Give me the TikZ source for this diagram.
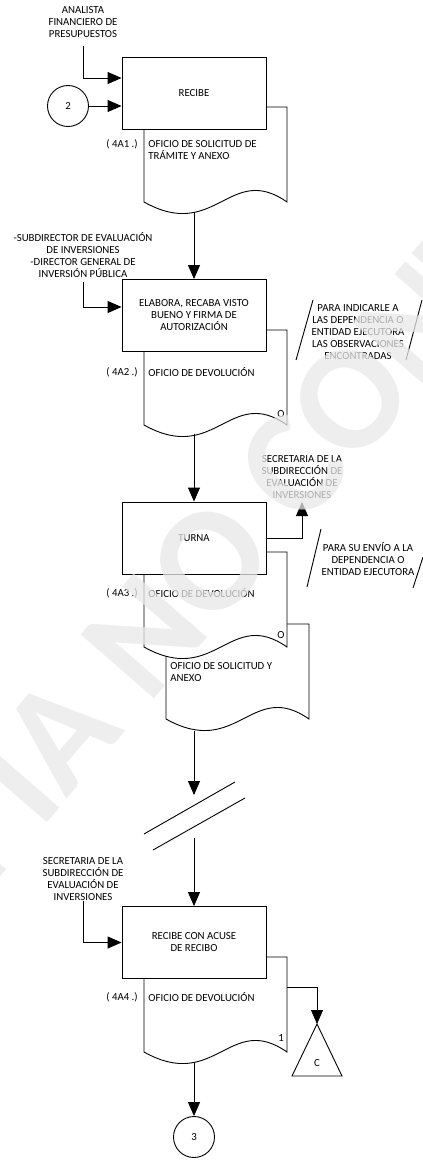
\documentclass[tikz,border=0pt]{standalone}
\usepackage{fontspec}
\setmainfont{Carlito}
\usetikzlibrary{arrows.meta}

% hoja de documento con borde inferior ondulado
\newcommand{\documento}[2]{%
  \draw[hoja] (#1,#2) -- ({#1+143},#2) -- ({#1+143},{#2+95})
    .. controls ({#1+85.8},{#2+55}) and ({#1+71.5},{#2+135}) .. (#1,{#2+95}) -- cycle;}

\begin{document}
\begin{tikzpicture}[x=1pt, y=-1pt, line width=0.9pt,
        every node/.style={font=\fontsize{10.8}{12}\selectfont},
        caja/.style={draw, fill=white, align=center, minimum width=144pt,
        minimum height=72pt, inner sep=0pt},
        texto/.style={align=center, inner sep=0pt},
        circulo/.style={draw, fill=white, circle, minimum size=41pt, inner sep=0pt},
        hoja/.style={draw, fill=white},
        flecha/.style={-{Triangle[length=14pt, width=12pt]}}
    ]
        \useasboundingbox (0,0) rectangle (423,1160);
        \clip (0,0) rectangle (423,1160);
        % documentos
        \documento{144}{107}
        \documento{144}{330}
        \documento{166}{624}
        \documento{144}{552}
        \documento{144}{957}
        % actividades
        \node[caja] (recibe) at (194,93) {RECIBE};
        \node[caja] (elabora) at (194,315.5) {ELABORA, RECABA VISTO\\BUENO Y FIRMA DE\\AUTORIZACIÓN};
        \node[caja] (turna) at (194,538) {TURNA};
        \node[caja] (acuse) at (194,942.5) {RECIBE CON ACUSE\\DE RECIBO};
        \node[circulo] (c2) at (68,106) {2};
        \node[circulo] (c3) at (194,1137) {3};
        % responsables
        \node[texto] (analista) at (83,22) {ANALISTA\\FINANCIERO DE\\PRESUPUESTOS};
        \node[texto] (subdirector) at (83,255) {-SUBDIRECTOR DE EVALUACIÓN\\DE INVERSIONES\\-DIRECTOR GENERAL DE\\INVERSIÓN PÚBLICA};
        \node[texto] (secretaria1) at (302,477) {SECRETARIA DE LA\\SUBDIRECCIÓN DE\\EVALUACIÓN DE\\INVERSIONES};
        \node[texto] (secretaria2) at (83,879) {SECRETARIA DE LA\\SUBDIRECCIÓN DE\\EVALUACIÓN DE\\INVERSIONES};
        % claves y textos de los documentos
        \node[texto] (clave1) at (122,144) {( 4A1 .)};
        \node[texto, anchor=west, align=left] (oficio1) at (148,150) {OFICIO DE SOLICITUD DE\\TRÁMITE Y ANEXO};
        \node[texto] (clave2) at (122,372) {( 4A2 .)};
        \node[texto, anchor=west] (oficio2) at (148,372) {OFICIO DE DEVOLUCIÓN};
        \node[texto] (o2) at (281,414) {O};
        \node[texto] (clave3) at (122,593) {( 4A3 .)};
        \node[texto, anchor=west] (oficio3) at (148,593) {OFICIO DE DEVOLUCIÓN};
        \node[texto] (o3) at (281,635) {O};
        \node[texto, anchor=west, align=left] (oficio4) at (170,672) {OFICIO DE SOLICITUD Y\\ANEXO};
        \node[texto] (clave4) at (122,997) {( 4A4 .)};
        \node[texto, anchor=west] (oficio5) at (148,997) {OFICIO DE DEVOLUCIÓN};
        \node[texto] (uno) at (281,1038) {1};
        % notas
        \node[texto] (nota1) at (358,332) {PARA INDICARLE A\\LAS DEPENDENCIA O\\ENTIDAD EJECUTORA\\LAS OBSERVACIONES\\ENCONTRADAS};
        \draw (313,300) -- (296,360);
        \draw (422,300) -- (406,360);
        \node[texto] (nota2) at (368,559) {PARA SU ENVÍO A LA\\DEPENDENCIA O\\ENTIDAD EJECUTORA};
        \draw (321,529) -- (307,587);
        \draw (423,557) -- (413,588);
        % conector C
        \coordinate (triC) at (317,1024);
        \draw (triC) -- ++(25,52) -- ++(-50,0) -- cycle;
        \node[texto] (conC) at (317,1063) {C};
        % salidas de los documentos
        \coordinate (s1) at (194,212);
        \coordinate (s2) at (194,434);
        \coordinate (s4) at (194,731);
        \coordinate (s5) at (194,1062);
        \coordinate (d5r) at (287,987);
        % corte
        \coordinate (cortea) at (194,795);
        \coordinate (corteb) at (194,838);
        \draw (144,834) -- (235,782);
        \draw (153,850) -- (245,798);
        % flechas
        \draw[flecha] ([yshift=-8pt]analista.south) |- ([yshift=15pt]recibe.west);
        \draw[flecha] (c2) -- (c2 -| recibe.west);
        \draw[flecha] (s1) -- (elabora);
        \draw[flecha] ([yshift=-4pt]subdirector.south) |- ([yshift=8.5pt]elabora.west);
        \draw[flecha] (s2) -- (turna);
        \draw[flecha] (turna.east) -| ([yshift=-3pt]secretaria1.south);
        \draw[flecha] (s4) -- (cortea);
        \draw[flecha] (corteb) -- (acuse);
        \draw[flecha] (secretaria2) |- (acuse);
        \draw[flecha] (d5r) -| (triC);
        \draw[flecha] (s5) -- (c3);
        % marca de agua
        \node[text=black!9, text opacity=0.75, rotate=49,
        font=\bfseries\fontsize{150}{150}\selectfont] (marca) at (336,416) {COPIA NO CONTROLADA};
    \end{tikzpicture}
\end{document}
